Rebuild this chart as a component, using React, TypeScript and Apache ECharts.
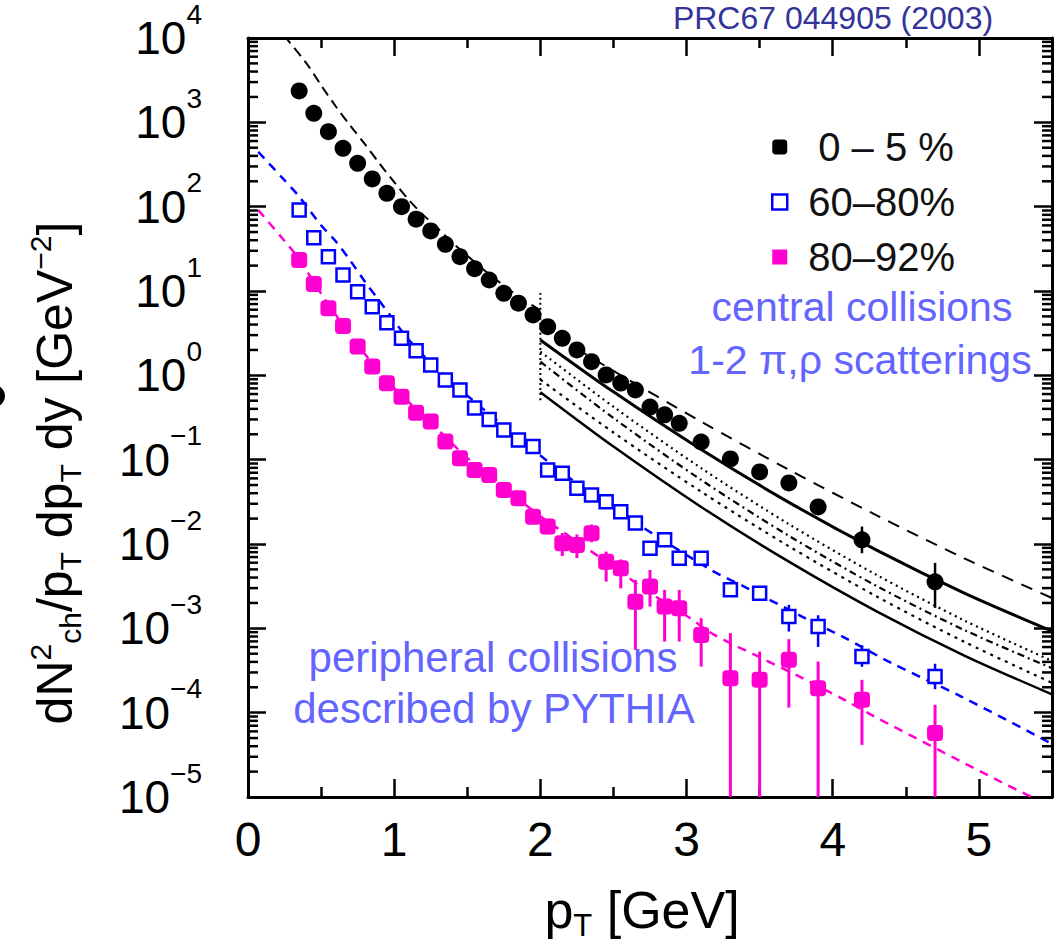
import React, { useEffect, useRef } from "react";
import * as echarts from "echarts";

const FONT = '"Liberation Sans", Arial, Helvetica, sans-serif';

// ---- measured spectra (pT in GeV) ----
const pT = [0.35, 0.45, 0.55, 0.65, 0.75, 0.85, 0.95, 1.05, 1.15, 1.25, 1.35, 1.45, 1.55, 1.65, 1.75, 1.85, 1.95,
  2.05, 2.15, 2.25, 2.35, 2.45, 2.55, 2.65, 2.75, 2.85, 2.95, 3.1, 3.3, 3.5, 3.7, 3.9, 4.2, 4.7];

const central0to5 = [2355, 1280, 775, 492, 327, 213, 144, 100, 71, 51.5, 35.8, 25.5, 18.4, 13.5, 9.4, 7.16, 5.2,
  3.78, 2.75, 2.0, 1.45, 1.01, 0.81, 0.67, 0.42, 0.34, 0.27, 0.162, 0.102, 0.0716, 0.053, 0.0275, 0.0112, 0.00356];

const periph60to80 = [91.4, 42.9, 25.5, 15.5, 9.8, 6.5, 4.2, 2.75, 1.96, 1.33, 0.88, 0.67, 0.41, 0.30, 0.225, 0.171, 0.143,
  0.0755, 0.069, 0.0458, 0.0382, 0.0318, 0.0242, 0.0177, 0.0089, 0.0112, 0.0068, 0.0068, 0.00286, 0.00261, 0.00138, 0.00105, 0.000462, 0.000268];

const periph80to92 = [23.3, 12.1, 6.24, 3.85, 2.19, 1.27, 0.805, 0.559, 0.361, 0.283, 0.164, 0.104, 0.0755, 0.0659, 0.0438, 0.0349, 0.0211,
  0.0161, 0.0102, 0.00975, 0.0134, 0.00618, 0.00516, 0.00207, 0.00313, 0.00181, 0.00173, 0.000836, 0.000256, 0.000245, 0.000423, 0.000195, 0.000142, 0.0000575];

// error bars: [pT, low, high]
const centralErr = [[4.2, 0.00778, 0.0161], [4.7, 0.00175, 0.00597]];
const periph60Err = [[3.3, 0.0024, 0.0034], [3.5, 0.0022, 0.0031], [3.7, 0.000916, 0.0019], [3.9, 0.000602, 0.00143],
  [4.2, 0.00035, 0.00063], [4.7, 0.00019, 0.00038]];
const periph80Err = [[2.15, 0.0072, 0.0135], [2.25, 0.0068, 0.013], [2.35, 0.0105, 0.017], [2.45, 0.00358, 0.00813],
  [2.55, 0.00298, 0.00656], [2.65, 0.000556, 0.00375], [2.75, 0.00181, 0.00493], [2.85, 0.000697, 0.00286],
  [2.95, 0.000697, 0.00286], [3.1, 0.000352, 0.00132], [3.3, 0.00001, 0.000877], [3.5, 0.00001, 0.00053],
  [3.7, 0.000115, 0.000743], [3.9, 0.00001, 0.000404], [4.2, 0.0000415, 0.000245], [4.7, 0.00001, 0.000124]];

// ---- model curves ----
const pythiaBlueX = [0.07, 0.23, 0.34, 0.5, 0.6, 0.7, 0.8, 0.9, 1.0, 1.1, 1.25, 1.5, 1.75, 2.0, 2.25, 2.5, 3.17, 3.4, 3.79, 4.08, 4.4, 4.88, 5.5];
const pythiaBlueY = [447, 224, 138, 60.3, 38.9, 22.9, 12.9, 7.59, 4.42, 2.63, 1.41, 0.575, 0.251, 0.112, 0.0525, 0.0263, 0.0049, 0.00309, 0.00138, 0.000776, 0.000389, 0.000155, 0.0000427];

const pythiaMagX = [0.07, 0.1, 0.25, 0.35, 0.5, 0.75, 1.0, 1.25, 1.5, 1.75, 2.0, 2.25, 2.5, 2.75, 3.01, 3.19, 3.51, 3.79, 4.08, 4.29, 5.16, 5.36];
const pythiaMagY = [91.2, 79.4, 39.2, 24.0, 9.33, 2.29, 0.708, 0.275, 0.105, 0.0468, 0.0214, 0.0107, 0.00537, 0.00263, 0.00137, 0.000836, 0.000447, 0.000258, 0.000142, 0.0000891, 0.0000148, 0.00001];

const centralLowX = [0.25, 0.27, 0.4, 0.5, 0.6, 0.7, 0.8, 0.9, 1.0, 1.1, 1.2, 1.3, 1.4, 1.5, 1.6, 1.7, 1.8, 1.9, 2.0];
const centralLowY = [10700, 9550, 5010, 2750, 1550, 912, 550, 324, 195, 120, 79.4, 55.0, 37.2, 26.3, 18.6, 13.5, 10.0, 7.59, 5.89];

const jumpX = [2.0, 2.0];
const jumpY = [9.5, 0.5];

const scatX = [2.0, 2.5, 3.1, 3.7, 4.3, 4.9, 5.5];
const scatA = [3.80, 1.13, 0.282, 0.0759, 0.0219, 0.00676, 0.00229];
const scatB = [2.63, 0.637, 0.132, 0.0312, 0.00845, 0.00262, 0.000927];
const scatC = [1.91, 0.424, 0.0794, 0.0172, 0.0043, 0.00124, 0.000412];
const scatD = [1.45, 0.312, 0.0575, 0.0125, 0.00318, 0.000955, 0.000337];
const scatE = [0.891, 0.21, 0.0417, 0.0094, 0.00239, 0.000692, 0.000226];
const scatF = [0.631, 0.143, 0.0275, 0.00617, 0.00159, 0.000476, 0.000165];

const legendNames = ["0 – 5 %", "60–80%", "80–92%"];

const X_MIN = 0;
const X_MAX = 5.5;
const Y_MIN = 1e-5;
const Y_MAX = 1e4;

const BLACK = "#000000";
const BLUE = "#0000ff";
const MAGENTA = "#ff00d0";
const NOTE = "#6464ff";

function zip(xs: number[], ys: number[]) {
  return xs.map((x, i) => [x, ys[i]]);
}

// minor log tick positions (axis decoration)
const minorLogTicks: number[][] = [];
for (let k = -5; k < 4; k++) {
  for (let m = 2; m <= 9; m++) minorLogTicks.push([X_MIN, m * Math.pow(10, k)]);
}

function errorSeries(data: number[][], color: string, width: number) {
  return {
    type: "custom",
    data,
    encode: { x: 0, y: [1, 2] },
    clip: true,
    z: 2,
    silent: true,
    renderItem: (params: any, api: any) => {
      const x = api.value(0);
      const lo = api.coord([x, api.value(1)]);
      const hi = api.coord([x, api.value(2)]);
      return {
        type: "line",
        shape: { x1: lo[0], y1: lo[1], x2: hi[0], y2: hi[1] },
        style: { stroke: color, lineWidth: width },
      };
    },
  };
}

function curve(xs: number[], ys: number[], color: string, width: number, type: any) {
  return {
    type: "line",
    data: zip(xs, ys),
    showSymbol: false,
    symbol: "none",
    smooth: 0.3,
    clip: true,
    z: 1,
    silent: true,
    lineStyle: { color, width, type },
  };
}

export default function App() {
  const ref = useRef<HTMLDivElement>(null);

  useEffect(() => {
    if (!ref.current) return;
    const chart = echarts.init(ref.current, undefined, { renderer: "svg" });

    const xAxisBase = {
      type: "value",
      min: X_MIN,
      max: X_MAX,
      interval: 1,
      splitLine: { show: false },
      axisLine: { show: true, onZero: false, lineStyle: { color: BLACK, width: 3 } },
      axisTick: { show: true, inside: true, length: 18, lineStyle: { color: BLACK, width: 2.5 } },
      minorTick: { show: true, splitNumber: 2, length: 10, lineStyle: { color: BLACK, width: 2.5 } },
    };

    const yAxisBase = {
      type: "log",
      logBase: 10,
      min: Y_MIN,
      max: Y_MAX,
      splitNumber: 9,
      splitLine: { show: false },
      axisLine: { show: true, onZero: false, lineStyle: { color: BLACK, width: 3 } },
      axisTick: { show: true, inside: true, length: 18, lineStyle: { color: BLACK, width: 2.5 } },
    };

    const option: any = {
      animation: false,
      backgroundColor: "#ffffff",
      grid: { left: 248, right: 10, top: 38, bottom: 146, containLabel: false, outerBoundsMode: "none" },
      legend: {
        orient: "vertical",
        left: 766,
        top: 122,
        itemWidth: 15,
        itemHeight: 15,
        itemGap: 15,
        selectedMode: false,
        data: [
          { name: legendNames[0], icon: "roundRect", itemStyle: { color: BLACK } },
          { name: legendNames[1], icon: "rect", itemStyle: { color: "#ffffff", borderColor: BLUE, borderWidth: 2.5 } },
          { name: legendNames[2], icon: "rect", itemStyle: { color: MAGENTA } },
        ],
        formatter: (name: string) => (name === legendNames[0] ? `{p|${name}}` : `{q|${name}}`),
        textStyle: {
          fontFamily: FONT,
          fontSize: 40,
          lineHeight: 40,
          color: "#111",
          rich: {
            p: { fontFamily: FONT, fontSize: 40, lineHeight: 40, color: "#111", padding: [0, 0, 0, 26] },
            q: { fontFamily: FONT, fontSize: 40, lineHeight: 40, color: "#111", padding: [0, 0, 0, 16] },
          },
        },
      },
      xAxis: [
        {
          ...xAxisBase,
          position: "bottom",
          axisLabel: {
            show: true,
            margin: 18,
            fontFamily: FONT,
            fontSize: 48,
            color: BLACK,
            showMaxLabel: false,
            formatter: (v: number) => String(v),
          },
        },
        { ...xAxisBase, position: "top", axisLabel: { show: false } },
      ],
      yAxis: [
        {
          ...yAxisBase,
          position: "left",
          axisLabel: {
            show: true,
            margin: 46,
            formatter: (v: number) => {
              const e = Math.round(Math.log10(v));
              return `{b|10}{e|${e < 0 ? "−" + Math.abs(e) : e}}`;
            },
            rich: {
              b: { fontFamily: FONT, fontSize: 46, lineHeight: 46, color: BLACK },
              e: { fontFamily: FONT, fontSize: 28, lineHeight: 28, color: BLACK, padding: [0, 0, 48, 0] },
            },
          },
        },
        { ...yAxisBase, position: "right", axisLabel: { show: false } },
      ],
      series: [
        {
          type: "custom",
          data: minorLogTicks,
          encode: { x: 0, y: 1 },
          clip: false,
          silent: true,
          z: 5,
          renderItem: (params: any, api: any) => {
            const v = api.value(1);
            const l = api.coord([X_MIN, v]);
            const r = api.coord([X_MAX, v]);
            return {
              type: "group",
              children: [
                { type: "line", shape: { x1: l[0], y1: l[1], x2: l[0] + 10, y2: l[1] }, style: { stroke: BLACK, lineWidth: 2.5 } },
                { type: "line", shape: { x1: r[0] - 10, y1: r[1], x2: r[0], y2: r[1] }, style: { stroke: BLACK, lineWidth: 2.5 } },
              ],
            };
          },
        },
        curve(centralLowX, centralLowY, BLACK, 2, [10, 6]),
        curve(jumpX, jumpY, BLACK, 2, [2, 3]),
        curve(scatX, scatA, BLACK, 2, [12, 9]),
        curve(scatX, scatB, BLACK, 3, "solid"),
        curve(scatX, scatC, BLACK, 2.2, [2, 4]),
        curve(scatX, scatD, BLACK, 2.2, [7, 4, 2, 4]),
        curve(scatX, scatE, BLACK, 2.2, [3, 5]),
        curve(scatX, scatF, BLACK, 2.5, "solid"),
        curve(pythiaBlueX, pythiaBlueY, BLUE, 2.5, [9, 7]),
        curve(pythiaMagX, pythiaMagY, MAGENTA, 2.5, [9, 7]),
        errorSeries(centralErr, BLACK, 2.5),
        errorSeries(periph60Err, BLUE, 2.5),
        errorSeries(periph80Err, MAGENTA, 3),
        {
          name: legendNames[0],
          type: "scatter",
          data: zip(pT, central0to5),
          symbol: "circle",
          symbolSize: 17,
          z: 4,
          itemStyle: { color: BLACK, opacity: 1 },
        },
        {
          name: legendNames[1],
          type: "scatter",
          data: zip(pT, periph60to80),
          symbol: "rect",
          symbolSize: 13,
          z: 4,
          itemStyle: { color: "#ffffff", borderColor: BLUE, borderWidth: 2.5, opacity: 1 },
        },
        {
          name: legendNames[2],
          type: "scatter",
          data: zip(pT, periph80to92),
          symbol: "roundRect",
          symbolSize: 16,
          z: 4,
          itemStyle: { color: MAGENTA, opacity: 1 },
        },
      ],
      graphic: [
        {
          type: "text",
          x: 833,
          y: 2,
          style: { text: "PRC67 044905 (2003)", fontFamily: FONT, fontSize: 32, fill: "#333399", align: "center", verticalAlign: "top" },
        },
        { type: "circle", shape: { cx: -6, cy: 396, r: 11 }, style: { fill: BLACK } },
        {
          type: "text",
          x: 862,
          y: 307,
          style: { text: "central collisions", fontFamily: FONT, fontSize: 41, fill: NOTE, align: "center", verticalAlign: "middle" },
        },
        {
          type: "text",
          x: 860,
          y: 360,
          style: { text: "1-2 π,ρ scatterings", fontFamily: FONT, fontSize: 41, fill: NOTE, align: "center", verticalAlign: "middle" },
        },
        {
          type: "text",
          x: 493,
          y: 657,
          style: { text: "peripheral collisions", fontFamily: FONT, fontSize: 42, fill: NOTE, align: "center", verticalAlign: "middle" },
        },
        {
          type: "text",
          x: 494,
          y: 708,
          style: { text: "described by PYTHIA", fontFamily: FONT, fontSize: 42, fill: NOTE, align: "center", verticalAlign: "middle" },
        },
        {
          type: "text",
          x: 55,
          y: 473,
          rotation: Math.PI / 2,
          style: {
            text: "{b|dN}{sup|2}{sub|ch}{b|/p}{sub|T}{b| dp}{sub|T}{b| dy [GeV}{sup|−2}{b|]}",
            align: "center",
            verticalAlign: "middle",
            rich: {
              b: { fontFamily: FONT, fontSize: 50, lineHeight: 50, fill: BLACK },
              sup: { fontFamily: FONT, fontSize: 30, lineHeight: 30, fill: BLACK, padding: [0, 0, 30, 0] },
              sub: { fontFamily: FONT, fontSize: 30, lineHeight: 30, fill: BLACK, padding: [30, 0, 0, 0] },
            },
          },
        },
        {
          type: "text",
          x: 642,
          y: 910,
          style: {
            text: "{b|p}{sub|T}{b| [GeV]}",
            align: "center",
            verticalAlign: "middle",
            rich: {
              b: { fontFamily: FONT, fontSize: 52, lineHeight: 52, fill: BLACK },
              sub: { fontFamily: FONT, fontSize: 31, lineHeight: 31, fill: BLACK, padding: [30, 0, 0, 0] },
            },
          },
        },
      ],
    };

    chart.setOption(option);
    return () => chart.dispose();
  }, []);

  return (
    <div
      ref={ref}
      style={{ position: "absolute", left: 0, top: 0, width: 1062, height: 943, background: "#fff" }}
    />
  );
}
